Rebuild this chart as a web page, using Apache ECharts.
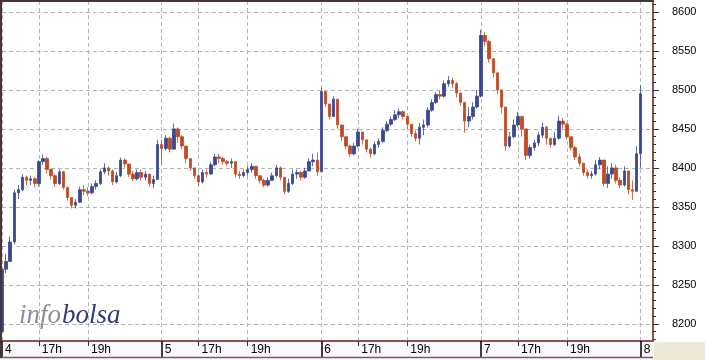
<!DOCTYPE html>
<html>
<head>
<meta charset="utf-8">
<script src="https://cdn.jsdelivr.net/npm/echarts@6/dist/echarts.min.js"></script>
<style>
html,body{margin:0;padding:0;background:#fff;}
#chart{width:705px;height:360px;}
</style>
</head>
<body>
<div id="chart"></div>
<script>
// ---- data (10-minute bars, session 15:30-22:00) ----
var days = ['4', '5', '6', '7', '8'];
var yTicks = [8200, 8250, 8300, 8350, 8400, 8450, 8500, 8550, 8600];
var firstOpen = 8190;

var c4 = [8270,8280,8305,8368,8372,8388,8384,8386,8380,8408,8412,8398,8390,8380,8395,8375,8362,8352,8356,8372,8370,8368,8376,8380,8395,8400,8396,8382,8390,8410,8405,8392,8386,8394,8388,8392,8380,8385,8430];
var h4 = [8280,8290,8312,8372,8378,8392,8390,8390,8388,8410,8417,8414,8398,8392,8398,8396,8376,8362,8360,8376,8378,8375,8380,8384,8398,8406,8402,8398,8395,8413,8412,8405,8396,8398,8398,8396,8392,8390,8436];
var l4 = [8176,8265,8290,8302,8360,8370,8378,8378,8375,8376,8404,8393,8385,8376,8378,8372,8358,8348,8348,8355,8365,8364,8366,8372,8378,8392,8390,8378,8380,8388,8400,8388,8383,8384,8384,8384,8376,8374,8385];

var c5 = [8425,8438,8424,8450,8440,8428,8412,8400,8390,8382,8394,8392,8404,8414,8412,8408,8406,8408,8392,8390,8394,8398,8402,8390,8384,8378,8384,8390,8400,8388,8370,8380,8392,8394,8388,8396,8408,8410,8395];
var h5 = [8436,8442,8440,8457,8452,8442,8428,8412,8400,8392,8398,8398,8408,8418,8418,8414,8410,8412,8408,8396,8398,8402,8406,8402,8390,8386,8388,8394,8404,8402,8388,8386,8398,8398,8396,8400,8412,8418,8420];
var l5 = [8405,8422,8420,8424,8432,8424,8406,8396,8386,8377,8380,8388,8392,8402,8406,8404,8402,8400,8388,8386,8388,8390,8394,8386,8380,8375,8376,8383,8388,8384,8366,8368,8378,8386,8384,8386,8396,8402,8390];

var c6 = [8498,8482,8466,8488,8455,8440,8428,8418,8428,8446,8436,8424,8418,8430,8434,8448,8456,8462,8468,8472,8466,8456,8444,8438,8452,8455,8474,8484,8494,8492,8508,8512,8508,8496,8484,8460,8466,8478,8492];
var h6 = [8503,8498,8482,8492,8488,8455,8440,8430,8432,8450,8446,8436,8426,8434,8438,8452,8460,8466,8474,8476,8474,8466,8456,8448,8458,8462,8478,8488,8497,8499,8512,8518,8516,8510,8496,8484,8478,8484,8500];
var l6 = [8395,8478,8462,8466,8450,8434,8424,8414,8416,8426,8430,8420,8413,8416,8426,8432,8446,8454,8460,8464,8462,8450,8440,8434,8430,8442,8452,8472,8482,8488,8490,8504,8502,8490,8480,8445,8452,8462,8476];

var c7 = [8570,8562,8540,8522,8500,8478,8428,8440,8455,8466,8450,8416,8426,8432,8442,8452,8438,8430,8438,8460,8456,8440,8426,8414,8406,8394,8390,8392,8404,8410,8380,8392,8400,8384,8378,8396,8372,8370,8418];
var h7 = [8577,8574,8564,8540,8522,8500,8478,8446,8462,8472,8466,8450,8430,8436,8446,8458,8454,8438,8446,8467,8464,8458,8440,8428,8418,8406,8398,8396,8410,8414,8410,8402,8406,8404,8388,8402,8396,8384,8428];
var l7 = [8490,8556,8535,8516,8494,8470,8422,8426,8438,8452,8440,8410,8412,8422,8428,8438,8430,8426,8428,8436,8450,8436,8422,8410,8402,8390,8386,8386,8390,8398,8376,8374,8386,8380,8374,8376,8366,8359,8370];

var c8 = [8495];
var h8 = [8506];
var l8 = [8400];

// ---- build categories & OHLC table ----
var slotsPerDay = 39;
var categories = [];
days.forEach(function (d, di) {
  var n = di < 4 ? slotsPerDay : 4;
  for (var k = 0; k < n; k++) {
    var m = 15 * 60 + 30 + 10 * k;
    var hh = Math.floor(m / 60), mm = m % 60;
    categories.push(d + ' ' + (hh < 10 ? '0' : '') + hh + ':' + (mm < 10 ? '0' : '') + mm);
  }
});
var closes = c4.concat(c5, c6, c7, c8);
var highs = h4.concat(h5, h6, h7, h8);
var lows = l4.concat(l5, l6, l7, l8);
var ohlc = closes.map(function (c, i) {
  return [i === 0 ? firstOpen : closes[i - 1], c, lows[i], highs[i]];
});

function timeOf(v) { return v.split(' ')[1]; }
function isDay(i, v) { return timeOf(v) === '15:30'; }
function isHour(i, v) { var t = timeOf(v); return t === '17:00' || t === '19:00'; }
function isMark(i, v) { return isDay(i, v) || isHour(i, v); }

var brown = '#8c5252';
var grey = '#b4b4b4';
var splitColors = [grey, grey, grey, grey, grey, grey, grey, grey, grey, '#86bcbc', grey];

var chart = echarts.init(document.getElementById('chart'), null, {renderer: 'canvas'});
chart.setOption({
  animation: false,
  backgroundColor: '#ffffff',
  grid: {left: 2, right: 52, top: 1, bottom: 19, containLabel: false},
  xAxis: [{
    type: 'category',
    data: categories,
    boundaryGap: false,
    axisLine: {show: true, onZero: false, lineStyle: {color: brown, width: 2}},
    axisTick: {show: true, interval: isHour, length: 5, lineStyle: {color: '#333', width: 1}},
    axisLabel: {
      show: true, interval: isMark, align: 'left', margin: 3, padding: [0, 0, 0, 3],
      fontSize: 12, fontFamily: 'Liberation Sans', color: '#000',
      formatter: function (v) {
        var t = timeOf(v);
        if (t === '15:30') return v.split(' ')[0];
        if (t === '17:00') return '17h';
        if (t === '19:00') return '19h';
        return '';
      }
    },
    splitLine: {show: true, interval: isMark, lineStyle: {color: grey, type: [4, 3], width: 1}}
  }, {
    type: 'category',
    data: categories,
    boundaryGap: false,
    position: 'bottom',
    axisLine: {show: false, onZero: false},
    axisTick: {show: true, interval: isDay, length: 16, lineStyle: {color: '#000', width: 1.5}},
    axisLabel: {show: false},
    splitLine: {show: false}
  }],
  yAxis: {
    type: 'value',
    position: 'right',
    min: 8178, max: 8614,
    minInterval: 50, maxInterval: 50, splitNumber: 9,
    axisLine: {show: true, lineStyle: {color: brown, width: 2}},
    axisTick: {show: true, customValues: yTicks, length: 6, lineStyle: {color: '#333'}},
    minorTick: {show: true, splitNumber: 5, length: 3, lineStyle: {color: '#333'}},
    axisLabel: {
      show: true, customValues: yTicks, margin: 19, align: 'left', fontSize: 11,
      fontFamily: 'Liberation Sans', color: '#000',
      formatter: function (v) { return String(v); }
    },
    splitLine: {show: true, lineStyle: {color: splitColors, type: [4, 3], width: 1}}
  },
  series: [{
    type: 'candlestick',
    xAxisIndex: 0,
    data: ohlc,
    barWidth: 3,
    itemStyle: {color: '#3a4894', color0: '#c24a22', borderColor: '#3a4894', borderColor0: '#c24a22', borderWidth: 0.8}
  }],
  graphic: [
    {type: 'rect', silent: true, shape: {x: 0, y: 342, width: 653, height: 15}, style: {fill: '#fbf8fb'}, z: 0},
    {type: 'rect', silent: true, shape: {x: 654, y: 342, width: 51, height: 18}, style: {fill: '#ece9d8'}, z: 0},
    {type: 'line', silent: true, shape: {x1: 0, y1: 357.5, x2: 653, y2: 357.5}, style: {stroke: brown, lineWidth: 1.5}, z: 100},
    {type: 'line', silent: true, shape: {x1: 1, y1: 0, x2: 1, y2: 358}, style: {stroke: '#4a3434', lineWidth: 2}, z: 100},
    {type: 'line', silent: true, shape: {x1: 0, y1: 1, x2: 654, y2: 1}, style: {stroke: '#4a3434', lineWidth: 2}, z: 100},
    {type: 'text', silent: true, x: 19, y: 329, style: {text: 'info', font: 'italic 27px "Liberation Serif"', fill: '#8c8c9e', verticalAlign: 'bottom'}, z: 1},
    {type: 'text', silent: true, x: 62, y: 329, style: {text: 'bolsa', font: 'italic 27px "Liberation Serif"', fill: '#333d73', verticalAlign: 'bottom'}, z: 1}
  ]
});
</script>
</body>
</html>
